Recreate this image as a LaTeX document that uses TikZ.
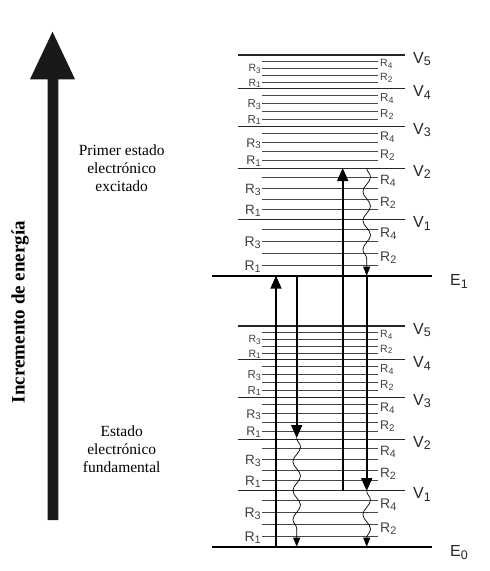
\documentclass[tikz,border=0pt]{standalone}
\usepackage{fontspec}
\setmainfont{Liberation Serif}
\setsansfont{Liberation Sans}
\usetikzlibrary{arrows.meta,decorations.pathmorphing}

\newcommand\bajo[1]{\raisebox{-0.28ex}{\scalebox{0.78}{#1}}}

\tikzset{
  nivel/.style={line width=1.2pt, black!85},
  rotac/.style={line width=1.1pt, black!72},
  elec/.style={line width=1.8pt, black},
  trans/.style={line width=1.8pt, -{Triangle[length=13pt,width=11pt]}},
  relax/.style={line width=0.7pt, decorate,
    decoration={snake, segment length=29pt, amplitude=3.8pt, post length=8pt},
    -{Triangle[length=9pt,width=7pt]}},
  etiq/.style={font=\fontsize{16}{16}\selectfont\sffamily, text=black!85, inner sep=0pt},
}

\begin{document}
\begin{tikzpicture}[x=1pt,y=-1pt]
    \useasboundingbox (0,0) rectangle (490,571);

    % flecha de energía
    \fill[black!90] (47.7,520) -- (47.7,79.3) -- (30,79.3) -- (52.5,31.7)
        -- (75,79.3) -- (58.3,79.3) -- (58.3,520) -- cycle;
    \node[rotate=90, font=\fontsize{19}{19}\selectfont\bfseries] (titulo) at (20,312) {Incremento de energía};

    % textos de los estados
    \node[align=center, font=\fontsize{15.5}{18}\selectfont] (excitado) at (121.7,168) {Primer estado\\electrónico\\excitado};
    \node[align=center, font=\fontsize{15.5}{18}\selectfont] (fundam) at (121.7,449.5) {Estado\\electrónico\\fundamental};

    % niveles electrónicos, vibracionales y rotacionales
    \foreach \base/\e in {275.7/1, 546.7/0} {
        \draw[elec] (212,\base) -- (432,\base);
        \node[etiq, anchor=base west] (E\e) at (450,\base+10) {E\bajo{\e}};
        \foreach \v/\off in {1/56, 2/107.5, 3/149.5, 4/187, 5/220.7} {
            \draw[nivel] (238,\base-\off) -- (405,\base-\off);
            \node[etiq, anchor=base west] (V\v-\e) at (413,\base-\off+8) {V\bajo{\v}};
        }
        \foreach \hi/\lo/\fs in {220.7/187/10.5, 187/149.5/11.5, 149.5/107.5/12.5, 107.5/56/13.5, 56/0/14} {
            \foreach \f/\r in {0.18/4, 0.39/3, 0.60/2, 0.81/1} {
                \pgfmathsetmacro\yr{\base-\hi+\f*(\hi-\lo)}
                \draw[rotac] (262,\yr) -- (378,\yr);
                \ifodd\r\relax
                    \node[font=\fontsize{\fs}{\fs}\selectfont\sffamily, text=black!75, inner sep=0pt, anchor=base east]
                        (R\r) at (261,\yr+0.36*\fs) {R\bajo{\r}};
                \else
                    \node[font=\fontsize{\fs}{\fs}\selectfont\sffamily, text=black!75, inner sep=0pt, anchor=base west]
                        (R\r) at (380,\yr+0.55*\fs) {R\bajo{\r}};
                \fi
            }
        }
    }

    % puntos de las transiciones
    \coordinate (abs0) at (276,546.7);
    \coordinate (abs1) at (276,275.7);
    \coordinate (emA1) at (296.7,275.7);
    \coordinate (emA0) at (296.7,438);
    \coordinate (baseA) at (296.7,546.7);
    \coordinate (absV1) at (342.7,491);
    \coordinate (absV2) at (342.7,168);
    \coordinate (relV2) at (366.7,168);
    \coordinate (emB1) at (366.7,275.7);
    \coordinate (emB0) at (366.7,491);
    \coordinate (baseB) at (366.7,546.7);

    % transiciones
    \draw[trans] (abs0) -- (abs1);
    \draw[trans] (emA1) -- (emA0);
    \draw[relax] (emA0) -- (baseA);
    \draw[trans] (absV1) -- (absV2);
    \draw[relax] (relV2) -- (emB1);
    \draw[trans] (emB1) -- (emB0);
    \draw[relax] (emB0) -- (baseB);
\end{tikzpicture}
\end{document}
